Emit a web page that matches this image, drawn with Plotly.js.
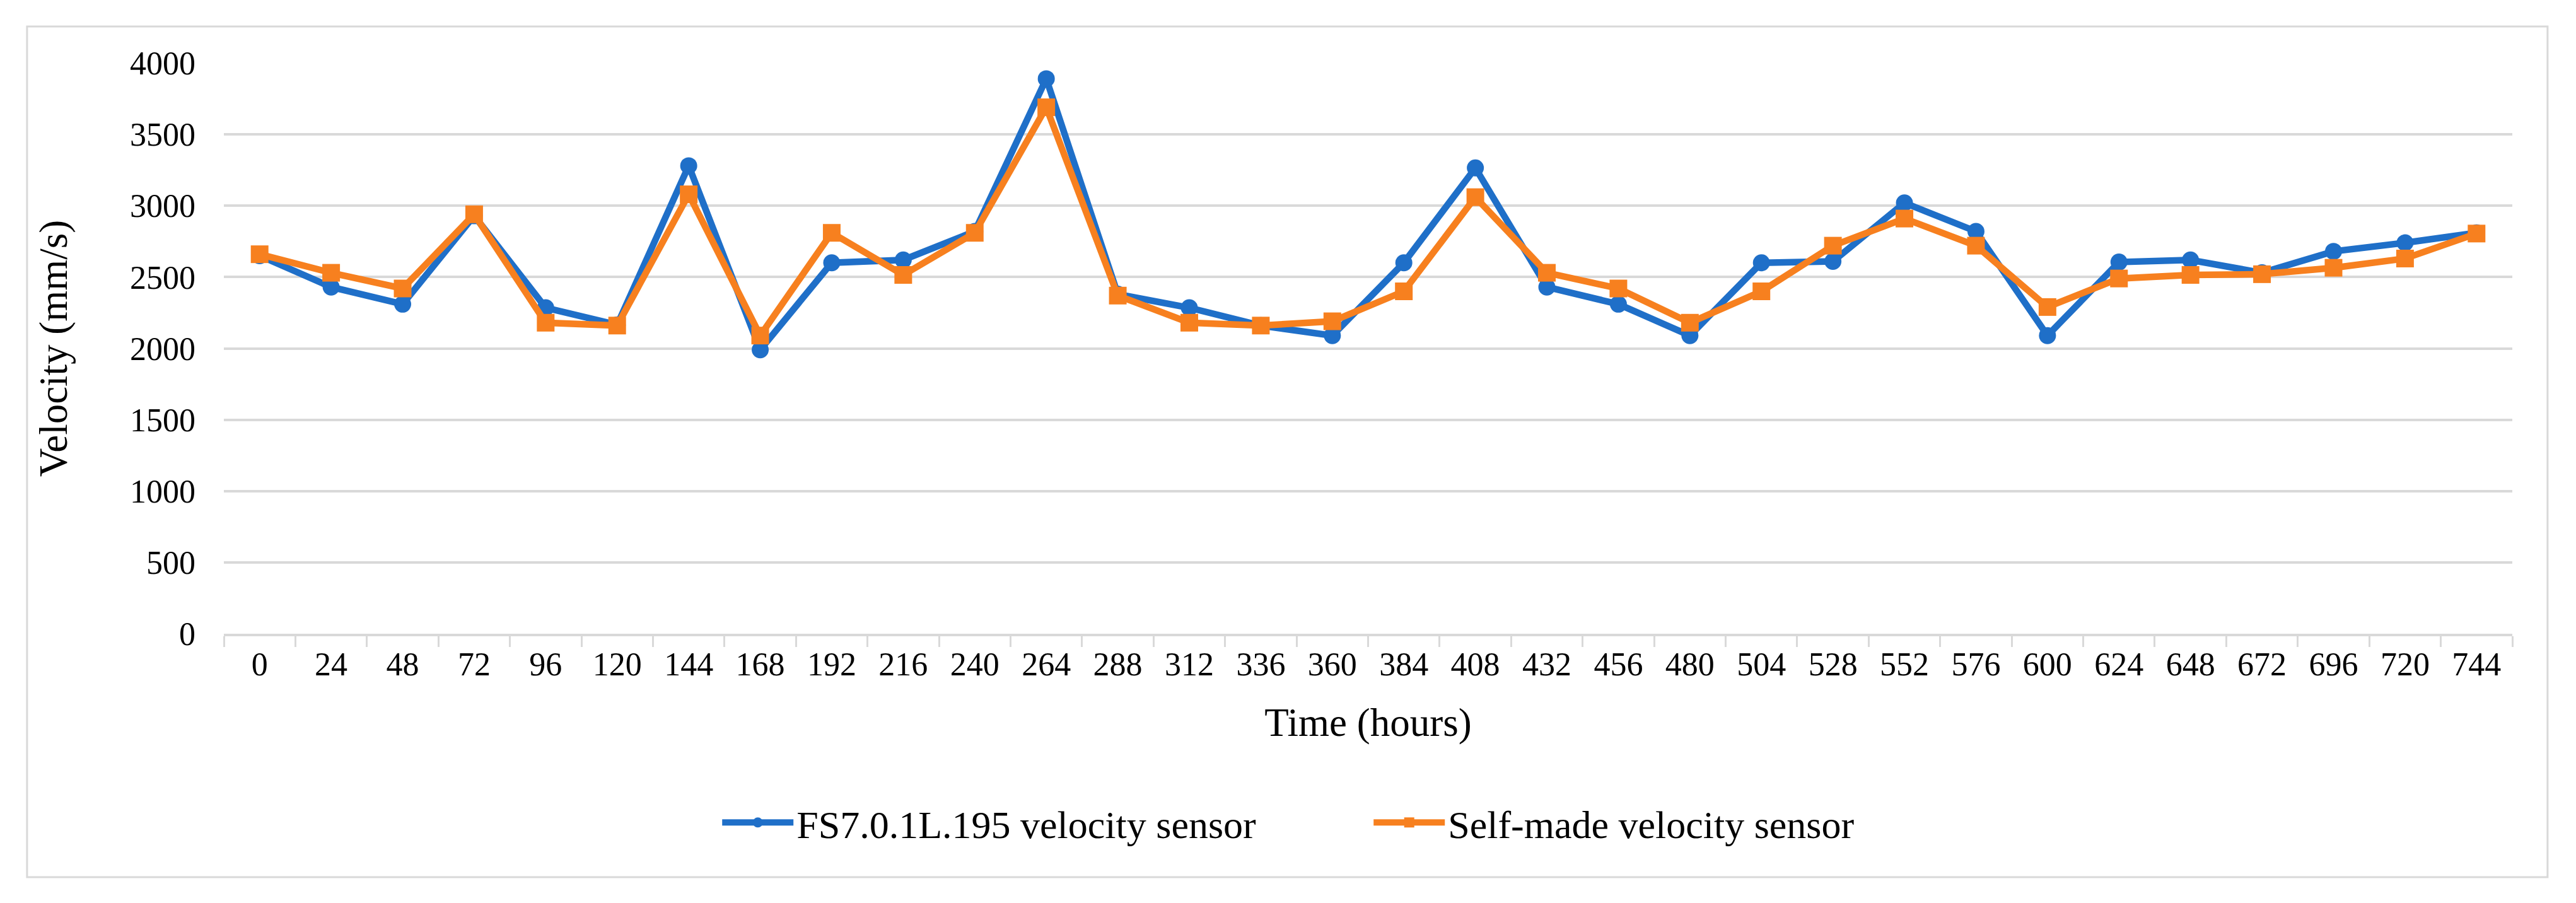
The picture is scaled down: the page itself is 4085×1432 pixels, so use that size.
<!DOCTYPE html>
<html>
<head>
<meta charset="utf-8">
<script src="https://cdn.plot.ly/plotly-3.0.1.min.js"></script>
<style>
  html, body { margin: 0; padding: 0; background: #fff; }
  #chart { width: 4085px; height: 1432px; }
</style>
</head>
<body>
<div id="chart"></div>
<script>
// time axis, one sample per day
const hours = ["0", "24", "48", "72", "96", "120", "144", "168", "192", "216", "240", "264",
  "288", "312", "336", "360", "384", "408", "432", "456", "480", "504", "528", "552",
  "576", "600", "624", "648", "672", "696", "720", "744"];

// FS7.0.1L.195 reference sensor (mm/s)
const fs_velocity = [2650, 2430, 2310, 2930, 2285, 2165, 3280, 1990, 2600, 2620, 2820, 3890,
  2380, 2285, 2160, 2090, 2600, 3265, 2430, 2310, 2090, 2600, 2610, 3020,
  2820, 2090, 2605, 2620, 2530, 2680, 2740, 2810];

// self-made sensor (mm/s)
const self_velocity = [2660, 2530, 2420, 2940, 2180, 2160, 3080, 2090, 2810, 2515, 2810, 3690,
  2370, 2180, 2160, 2190, 2400, 3060, 2530, 2420, 2180, 2400, 2720, 2910,
  2720, 2290, 2490, 2515, 2520, 2565, 2630, 2805];

const y_ticks = [0, 500, 1000, 1500, 2000, 2500, 3000, 3500, 4000];

const serif = "Liberation Serif, Times New Roman, serif";
const grid = "#d9d9d9";

let chart_data = [
  {
    type: "scatter",
    mode: "lines+markers",
    x: hours,
    y: fs_velocity,
    name: "FS7.0.1L.195 velocity sensor",
    line: {color: "#1f6fc8", width: 10.5},
    marker: {color: "#1f6fc8", symbol: "circle", size: 27}
  },
  {
    type: "scatter",
    mode: "lines+markers",
    x: hours,
    y: self_velocity,
    name: "Self-made velocity sensor",
    line: {color: "#f7801f", width: 10.5},
    marker: {color: "#f7801f", symbol: "square", size: 28}
  }
];

const chart_layout = {
  width: 4085,
  height: 1432,
  paper_bgcolor: "#fff",
  plot_bgcolor: "#fff",
  margin: {l: 355, r: 101, t: 100, b: 427},
  font: {family: serif, color: "#000", size: 52},
  showlegend: true,
  xaxis: {
    type: "category",
    categoryorder: "array",
    categoryarray: hours,
    range: [-0.5, hours.length - 0.5],
    showgrid: false,
    zeroline: false,
    showline: true,
    linecolor: grid,
    linewidth: 4,
    ticks: "outside",
    tickson: "boundaries",
    ticklen: 17,
    tickwidth: 3,
    tickcolor: grid,
    tickfont: {family: serif, size: 52, color: "#000"},
    title: {text: "Time (hours)", font: {family: serif, size: 63, color: "#000"}, standoff: 42}
  },
  yaxis: {
    range: [0, 4000],
    tickvals: y_ticks,
    ticktext: y_ticks.map(String),
    showgrid: true,
    gridcolor: grid,
    gridwidth: 4,
    zeroline: false,
    showline: false,
    ticks: "",
    ticklabelstandoff: 44,
    tickfont: {family: serif, size: 52, color: "#000"},
    title: {text: "Velocity (mm/s)", font: {family: serif, size: 63, color: "#000"}, standoff: 78}
  },
  legend: {
    orientation: "h",
    xref: "container",
    yref: "container",
    x: 0.532,
    xanchor: "center",
    y: 0.089,
    yanchor: "middle",
    itemwidth: 113,
    entrywidth: 905,
    font: {family: serif, size: 62, color: "#000"}
  },
  shapes: [{
    type: "rect",
    xref: "paper",
    yref: "paper",
    x0: -0.0860, x1: 1.0154,
    y0: -0.4265, y1: 1.0641,
    line: {color: grid, width: 3},
    fillcolor: "rgba(0,0,0,0)",
    layer: "below"
  }]
};

Plotly.newPlot("chart", chart_data, chart_layout, {displayModeBar: false, staticPlot: true});
</script>
</body>
</html>
